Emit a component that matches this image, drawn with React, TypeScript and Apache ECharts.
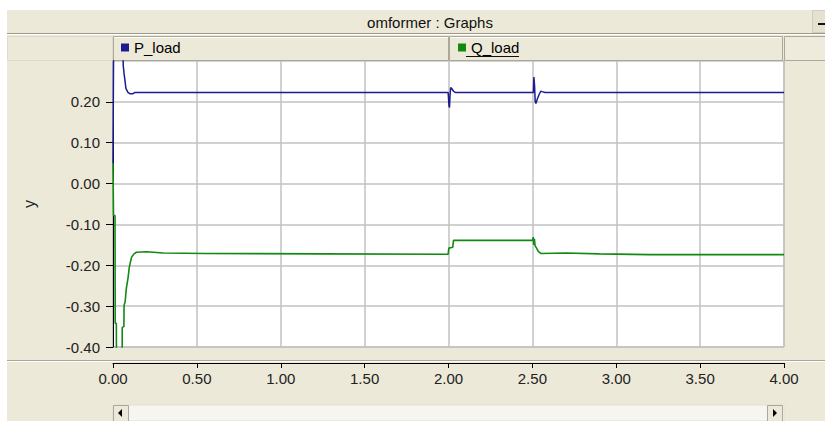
import React, { useEffect, useRef } from "react";
import * as echarts from "echarts";

// ---- data ----
const pTime = [0, 0.003, 0.005, 0.058, 0.061, 0.066, 0.072, 0.077, 0.089, 0.1, 0.119, 0.131, 0.16, 1.998, 2.003, 2.006, 2.009, 2.013, 2.02, 2.03, 2.04, 2.506, 2.509, 2.513, 2.517, 2.521, 2.528, 2.54, 2.55, 2.558, 2.575, 4.0];
const pVal = [0.05, 0.05, 0.45, 0.45, 0.289, 0.269, 0.25, 0.233, 0.223, 0.22, 0.22, 0.223, 0.223, 0.223, 0.19, 0.186, 0.215, 0.235, 0.232, 0.226, 0.223, 0.223, 0.261, 0.24, 0.2, 0.196, 0.205, 0.218, 0.226, 0.225, 0.223, 0.223];

const qTime = [0, 0.003, 0.012, 0.013, 0.02, 0.021, 0.054, 0.055, 0.065, 0.066, 0.072, 0.08, 0.09, 0.097, 0.105, 0.111, 0.125, 0.14, 0.2, 0.3, 0.55, 1.25, 1.998, 2.002, 2.025, 2.03, 2.502, 2.505, 2.508, 2.512, 2.516, 2.525, 2.535, 2.55, 2.7, 2.9, 3.2, 4.0];
const qVal = [0.05, -0.078, -0.078, -0.342, -0.342, -0.5, -0.5, -0.352, -0.35, -0.298, -0.29, -0.255, -0.23, -0.205, -0.19, -0.18, -0.172, -0.168, -0.167, -0.17, -0.171, -0.172, -0.173, -0.158, -0.156, -0.139, -0.139, -0.131, -0.15, -0.135, -0.152, -0.158, -0.166, -0.171, -0.17, -0.172, -0.174, -0.174];

const seriesNames = ["P_load", "Q_load"];
const seriesColors = ["#1c1c90", "#128a12"];
const yTicks = [-0.4, -0.3, -0.2, -0.1, 0, 0.1, 0.2];
const titleText = "omformer : Graphs";
const yName = "y";

const FONT = "'Liberation Sans', Arial, sans-serif";
const BEIGE = "#ECE9D8";
const EDGE = "#aca899";

export default function App() {
  const ref = useRef<HTMLDivElement>(null);
  useEffect(() => {
    if (!ref.current) return;
    const chart = echarts.init(ref.current, null, { renderer: "svg" });
    const pData = pTime.map((t, i) => [t, pVal[i]]);
    const qData = qTime.map((t, i) => [t, qVal[i]]);
    const labelStyle = { fontSize: 15, color: "#222", fontFamily: FONT };
    chart.setOption({
      animation: false,
      backgroundColor: BEIGE,
      grid: {
        left: 113,
        right: 41,
        top: 61,
        bottom: 74,
        show: true,
        backgroundColor: "#ffffff",
        borderColor: "#a8a8a8",
        borderWidth: 1,
      },
      legend: [
        {
          data: [seriesNames[0]],
          left: 116,
          top: 35,
          icon: "rect",
          itemWidth: 8,
          itemHeight: 8,
          selectedMode: false,
          textStyle: { fontSize: 15, color: "#000", fontFamily: FONT },
        },
        {
          data: [seriesNames[1]],
          left: 453,
          top: 35,
          icon: "rect",
          itemWidth: 8,
          itemHeight: 8,
          selectedMode: false,
          textStyle: { fontSize: 15, color: "#000", fontFamily: FONT },
        },
      ],
      xAxis: {
        type: "value",
        min: 0,
        max: 4,
        interval: 0.5,
        offset: 16,
        axisLine: { show: true, onZero: false, lineStyle: { color: "#000", width: 1 } },
        axisTick: { show: true, inside: false, length: 5, lineStyle: { color: "#000" } },
        axisLabel: {
          ...labelStyle,
          margin: 8,
          formatter: (v: number) => v.toFixed(2),
        },
        splitLine: { show: true, lineStyle: { color: "#c2c2c2", width: 1.5 } },
      },
      yAxis: {
        type: "value",
        min: -0.4,
        max: 0.3,
        interval: 0.1,
        name: yName,
        nameLocation: "middle",
        nameGap: 76,
        nameTextStyle: { fontSize: 16, color: "#222", fontFamily: FONT },
        axisLine: { show: true, onZero: false, lineStyle: { color: "#000", width: 1 } },
        axisTick: { show: true, length: 7, lineStyle: { color: "#000" }, customValues: yTicks },
        axisLabel: {
          ...labelStyle,
          margin: 13,
          customValues: yTicks,
          formatter: (v: number) => (v > 0.25 ? "" : v.toFixed(2)),
        },
        splitLine: { show: true, lineStyle: { color: "#c2c2c2", width: 1.5 } },
      },
      series: [
        {
          name: seriesNames[0],
          type: "line",
          data: pData,
          showSymbol: false,
          clip: true,
          color: seriesColors[0],
          lineStyle: { color: seriesColors[0], width: 1.5 },
          z: 3,
        },
        {
          name: seriesNames[1],
          type: "line",
          data: qData,
          showSymbol: false,
          clip: true,
          color: seriesColors[1],
          lineStyle: { color: seriesColors[1], width: 1.6 },
          z: 4,
        },
      ],
      graphic: [
        // white page margins
        { type: "rect", shape: { x: 0, y: 0, width: 825, height: 10 }, style: { fill: "#ffffff" }, z: -10 },
        { type: "rect", shape: { x: 0, y: 0, width: 7, height: 421 }, style: { fill: "#ffffff" }, z: -10 },
        // title bar
        { type: "line", shape: { x1: 7, y1: 33.5, x2: 825, y2: 33.5 }, style: { stroke: "#9d9a8c", lineWidth: 1 } },
        { type: "line", shape: { x1: 7, y1: 34.5, x2: 825, y2: 34.5 }, style: { stroke: "#ffffff", lineWidth: 1 } },
        { type: "rect", shape: { x: 812.5, y: 10.5, width: 13, height: 22 }, style: { fill: "#e4e1d0", stroke: "#d0cdbd" } },
        { type: "line", shape: { x1: 818, y1: 24, x2: 825, y2: 24 }, style: { stroke: "#111", lineWidth: 2 } },
        {
          type: "text",
          x: 430,
          y: 22,
          style: {
            text: titleText,
            font: "15px " + FONT,
            fill: "#111",
            textAlign: "center",
            textVerticalAlign: "middle",
          },
        },
        // legend header cells
        { type: "rect", shape: { x: 7.5, y: 36.5, width: 105, height: 24 }, style: { fill: BEIGE, stroke: "#dedbcb" } },
        { type: "rect", shape: { x: 113.5, y: 36.5, width: 335, height: 24 }, style: { fill: BEIGE, stroke: EDGE } },
        { type: "rect", shape: { x: 449.5, y: 36.5, width: 333, height: 24 }, style: { fill: BEIGE, stroke: EDGE } },
        { type: "rect", shape: { x: 784.5, y: 36.5, width: 41, height: 24 }, style: { fill: "#eeebdd", stroke: EDGE } },
        { type: "line", shape: { x1: 114.5, y1: 37.5, x2: 447.5, y2: 37.5 }, style: { stroke: "#ffffff", lineWidth: 1 } },
        { type: "line", shape: { x1: 450.5, y1: 37.5, x2: 781.5, y2: 37.5 }, style: { stroke: "#ffffff", lineWidth: 1 } },
        { type: "line", shape: { x1: 466, y1: 56.5, x2: 519, y2: 56.5 }, style: { stroke: "#111", lineWidth: 1 } },
        // separator above the time axis
        { type: "line", shape: { x1: 7, y1: 360.5, x2: 825, y2: 360.5 }, style: { stroke: EDGE, lineWidth: 1 } },
        { type: "line", shape: { x1: 7, y1: 361.5, x2: 825, y2: 361.5 }, style: { stroke: "#ffffff", lineWidth: 1 } },
        // scrollbar
        { type: "rect", shape: { x: 113, y: 405, width: 671, height: 16 }, style: { fill: "#f6f5f0", stroke: "#e2dfd2" } },
        { type: "rect", shape: { x: 113.5, y: 405.5, width: 15, height: 16 }, style: { fill: BEIGE, stroke: EDGE } },
        { type: "rect", shape: { x: 767.5, y: 405.5, width: 15, height: 16 }, style: { fill: BEIGE, stroke: EDGE } },
        { type: "polygon", shape: { points: [[122, 409], [122, 417], [118, 413]] }, style: { fill: "#000" } },
        { type: "polygon", shape: { points: [[773, 409], [773, 417], [777, 413]] }, style: { fill: "#000" } },
      ],
    });
    return () => chart.dispose();
  }, []);
  return (
    <div
      ref={ref}
      style={{ position: "absolute", left: 0, top: 0, width: 825, height: 421, background: BEIGE }}
    />
  );
}
